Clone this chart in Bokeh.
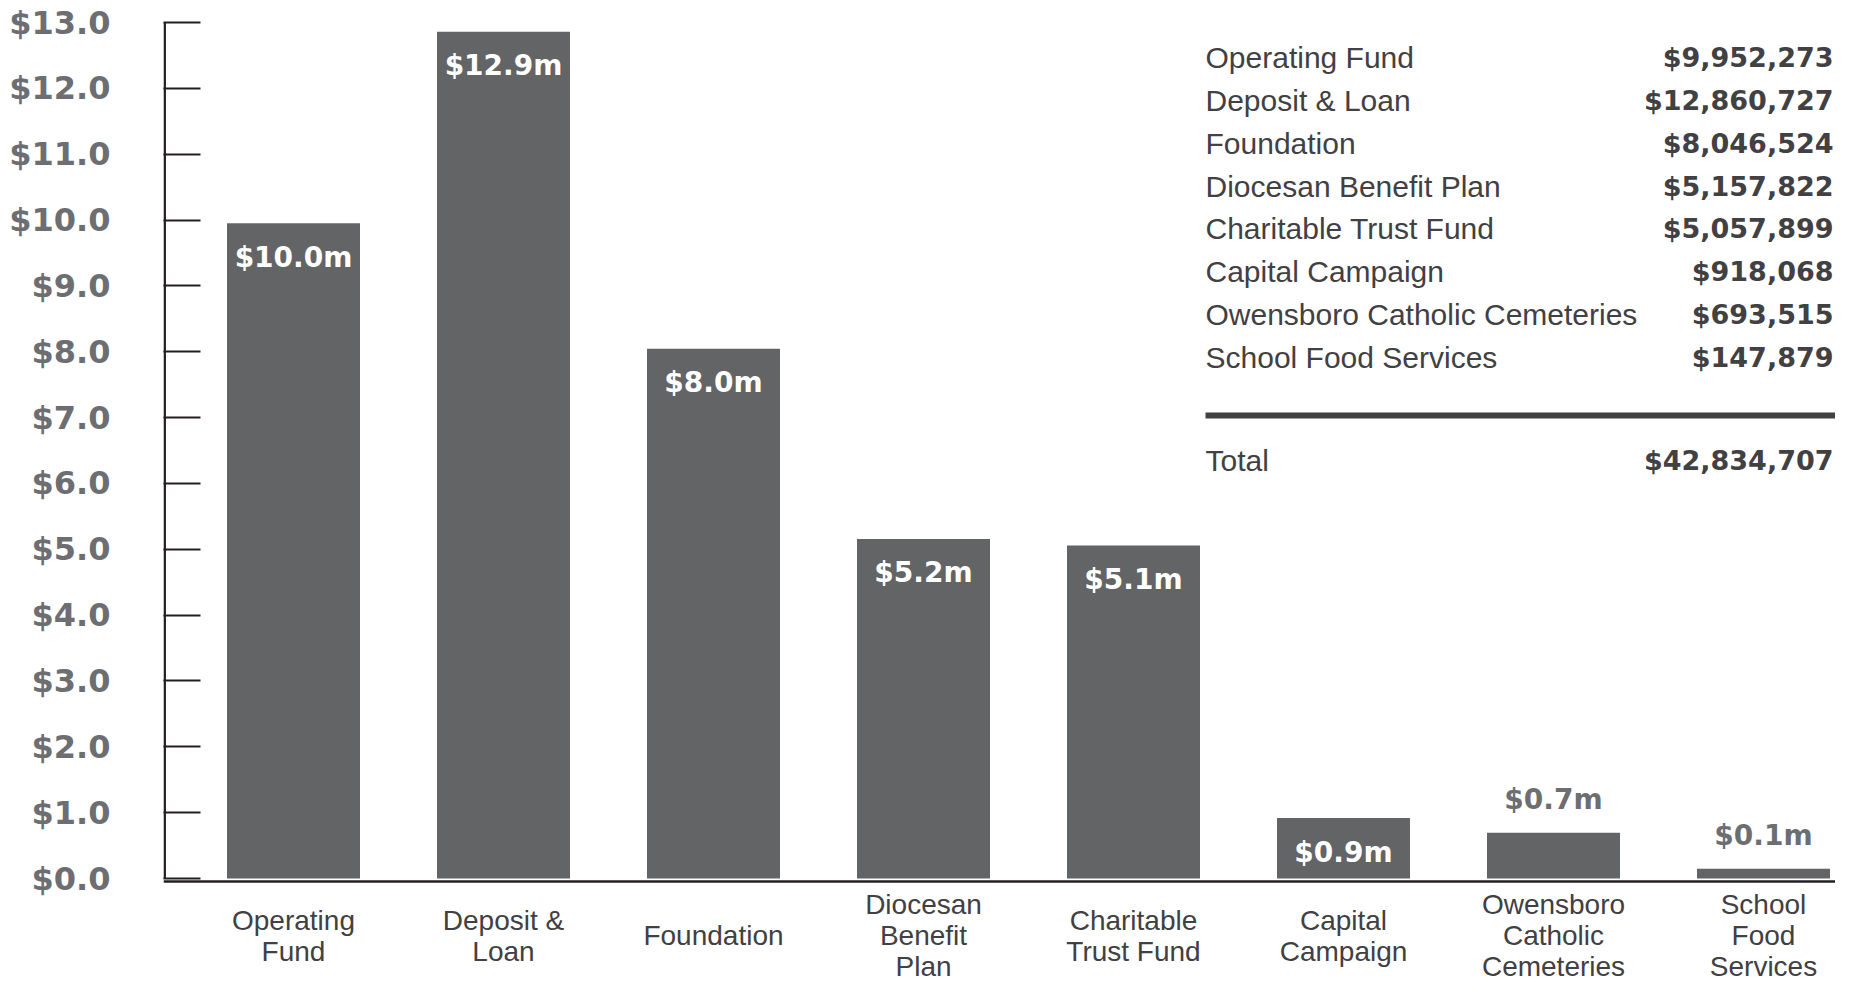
from bokeh.plotting import figure
from bokeh.models import FixedTicker, ColumnDataSource, Range1d
from bokeh.core.properties import value
from bokeh.embed import file_html
from bokeh.resources import INLINE

# ---------------- data ----------------
categories = ["Operating Fund", "Deposit & Loan", "Foundation", "Diocesan Benefit Plan",
              "Charitable Trust Fund", "Capital Campaign", "Owensboro Catholic Cemeteries",
              "School Food Services"]
axis_labels = ["Operating\nFund", "Deposit &\nLoan", "Foundation", "Diocesan\nBenefit\nPlan",
               "Charitable\nTrust Fund", "Capital\nCampaign", "Owensboro\nCatholic\nCemeteries",
               "School\nFood\nServices"]
amounts = [9952273, 12860727, 8046524, 5157822, 5057899, 918068, 693515, 147879]
y_ticks = list(range(0, 14))
y_tick_labels = ["$%.1f" % t for t in y_ticks]

# ---------------- layout / style ----------------
FONT = "Liberation Sans"
BOLD_FONT = "DejaVu Sans"
BAR_COLOR = "#636466"
TICK_LABEL_COLOR = "#6d6e71"
TEXT_COLOR = "#414042"
LINE_COLOR = "#231f20"

FIG_W, FIG_H = 1835, 985
B_L, B_R, B_T, B_B = 163, 0, 12, 0
PX_X = 210.0                      # px per category
TOP_Y, ZERO_Y = 22.0, 878.0       # figure y of top tick and of value 0
PX_Y = (ZERO_Y - TOP_Y) / 13.0    # px per $1m
FIRST_X = 293.0                   # figure x of first category centre

x_start = (B_L - FIRST_X) / PX_X
x_end = x_start + (FIG_W - B_L - B_R) / PX_X
y_end = (ZERO_Y - B_T) / PX_Y
y_start = y_end - (FIG_H - B_T - B_B) / PX_Y


def dx(fx):
    return (fx - FIRST_X) / PX_X


def dy(fy):
    return (ZERO_Y - fy) / PX_Y


p = figure(width=FIG_W, height=FIG_H, output_backend="svg", toolbar_location=None,
           x_range=Range1d(x_start, x_end), y_range=Range1d(y_start, y_end),
           x_axis_location=None, min_border_left=B_L, min_border_right=B_R,
           min_border_top=B_T, min_border_bottom=B_B)
p.outline_line_color = None
p.grid.visible = False
p.background_fill_color = "white"
p.border_fill_color = "white"

ax = p.yaxis[0]
ax.ticker = FixedTicker(ticks=y_ticks)
ax.major_label_overrides = {t: lab for t, lab in zip(y_ticks, y_tick_labels)}
ax.axis_line_color = None
ax.major_tick_in = 37
ax.major_tick_out = 0
ax.major_tick_line_width = 2
ax.major_tick_line_color = LINE_COLOR
ax.minor_tick_line_color = None
ax.major_label_standoff = 53
ax.major_label_text_font = BOLD_FONT
ax.major_label_text_font_style = "bold"
ax.major_label_text_font_size = "32px"
ax.major_label_text_color = TICK_LABEL_COLOR

# axis lines
p.segment(x0=[x_start + 1.2 / PX_X], y0=[0], x1=[x_start + 1.2 / PX_X], y1=[y_ticks[-1]],
          line_color=LINE_COLOR, line_width=2.5)
p.segment(x0=[x_start], y0=[dy(ZERO_Y + 3)], x1=[x_end], y1=[dy(ZERO_Y + 3)],
          line_color=LINE_COLOR, line_width=2.5)

# bars
idx = list(range(len(categories)))
mil = [a / 1e6 for a in amounts]
p.vbar(x=idx, top=mil, bottom=0, width=133 / PX_X, fill_color=BAR_COLOR, line_color=None)

# bar value labels
inside = [m * PX_Y > 55 for m in mil]
lab_src = ColumnDataSource(dict(
    x=idx, y=mil,
    text=["$%.1fm" % m for m in mil],
    color=["white" if i else TICK_LABEL_COLOR for i in inside],
    off=[34 if i else -33 for i in inside],
))
p.text(x="x", y="y", text="text", source=lab_src, text_color="color", y_offset="off",
       text_align="center", text_baseline="middle", text_font=value(BOLD_FONT),
       text_font_style="bold", text_font_size="28px")

# category labels
p.text(x=idx, y=[0] * len(idx), text=axis_labels, y_offset=57,
       text_align="center", text_baseline="middle", text_font=value(FONT),
       text_font_size="28px", text_color=TEXT_COLOR, text_line_height=1.0)

# table
ROW0, ROW_STEP = 57.0, 42.86
row_y = [dy(ROW0 + i * ROW_STEP) for i in range(len(categories))]
tl, tr = dx(1205), dx(1833)
p.text(x=[tl] * len(categories), y=row_y, text=categories, text_align="left",
       text_baseline="middle", text_font=value(FONT), text_font_size="30px",
       text_color=TEXT_COLOR)
p.text(x=[tr] * len(categories), y=row_y, text=["${:,}".format(a) for a in amounts],
       text_align="right", text_baseline="middle", text_font=value(BOLD_FONT),
       text_font_style="bold", text_font_size="27px", text_color=TEXT_COLOR)

p.segment(x0=[tl], y0=[dy(415)], x1=[x_end], y1=[dy(415)], line_color=TEXT_COLOR,
          line_width=6)
p.text(x=[tl], y=[dy(460)], text=["Total"], text_align="left", text_baseline="middle",
       text_font=value(FONT), text_font_size="30px", text_color=TEXT_COLOR)
p.text(x=[tr], y=[dy(460)], text=["${:,}".format(sum(amounts))], text_align="right",
       text_baseline="middle", text_font=value(BOLD_FONT), text_font_style="bold",
       text_font_size="27px", text_color=TEXT_COLOR)

open("out.html", "w").write(file_html(p, INLINE))
